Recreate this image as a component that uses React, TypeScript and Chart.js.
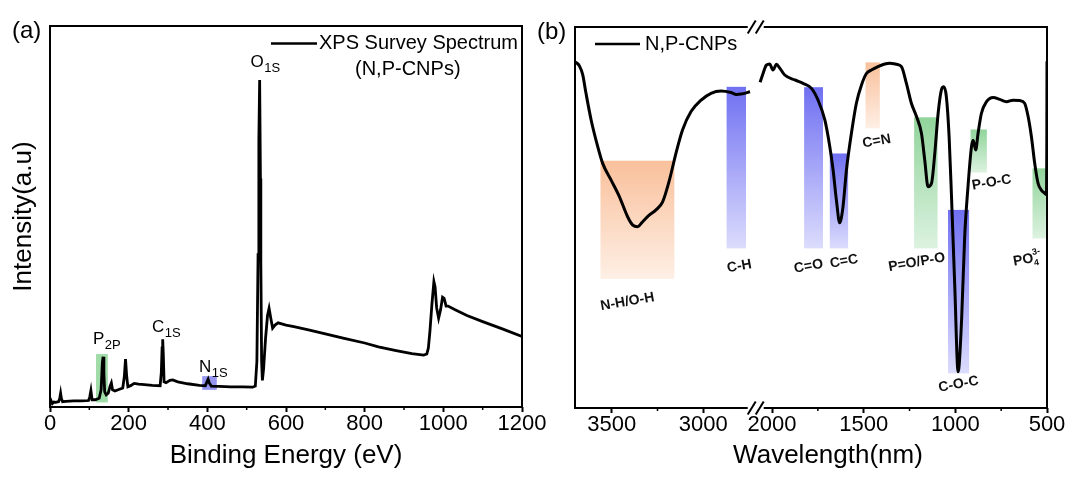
import React, { useEffect, useRef } from "react";
import { Chart, registerables } from "chart.js";
Chart.register(...registerables);

const FONT = 'Arial, "Liberation Sans", Helvetica, sans-serif';

// ---------------- Panel (a): XPS survey spectrum ----------------
const xpsEnergy = [
  0, 3, 6, 10, 15, 22, 25, 27, 29, 32, 40, 60, 80, 98, 101, 104, 107, 115, 125, 130,
  133, 135, 137, 139, 143, 148, 153, 156, 159, 165, 175, 185, 189, 192, 195, 198, 205, 214, 225, 240,
  260, 280, 283, 285, 286.5, 288, 290, 295, 305, 312, 325, 350, 380, 395, 399, 402, 405, 410, 430, 460,
  490, 515, 522, 526, 529, 531, 533, 535, 536, 538, 540, 543, 548, 553, 557, 561, 566, 572, 580, 600,
  620, 660, 700, 748, 800, 835, 880, 920, 950, 958, 962, 966, 971, 976, 979, 983, 988, 993, 998, 1002,
  1007, 1012, 1030, 1060, 1100, 1150, 1200,
];
const xpsIntensity = [
  0.8, 1.6, 0.9, 1.3, 1.2, 1.4, 2.4, 3.6, 2.2, 1.4, 1.5, 1.6, 1.6, 1.7, 2.6, 4.3, 1.9, 1.9, 2.3, 4.5,
  11.5, 13.2, 9.0, 4.0, 3.2, 3.6, 5.5, 6.3, 4.5, 4.2, 4.6, 5.0, 8.0, 12.6, 8.0, 5.3, 5.6, 6.2, 6.0, 5.9,
  5.7, 5.6, 9.0, 15.5, 17.8, 14.0, 6.6, 6.4, 7.0, 7.1, 6.6, 6.1, 5.7, 5.6, 6.6, 7.3, 6.3, 5.5, 5.4, 5.3,
  5.3, 5.2, 5.5, 12.0, 40.0, 70.0, 85.8, 60.0, 38.0, 12.0, 7.0, 10.0, 18.0, 24.0, 25.9, 23.5, 20.7, 21.5, 22.1, 21.5,
  21.1, 20.2, 19.2, 18.0, 16.8, 15.8, 14.8, 14.0, 13.6, 13.9, 15.5, 20.0, 27.0, 32.9, 31.5, 26.0, 23.3, 25.5, 28.8, 28.5,
  26.5, 26.5, 25.5, 24.0, 22.4, 20.5, 18.5,
];
const xpsTicks = [0, 200, 400, 600, 800, 1000, 1200];
const xpsMinorTicks = [100, 300, 500, 700, 900, 1100];
const xpsPeakNames = ["P", "C", "N", "O"];
const xpsPeakSubs = ["2P", "1S", "1S", "1S"];
const xpsHighlightFrom = [117, 387];
const xpsHighlightTo = [147, 424];
const xpsHighlightTop = [13.9, 8.1];
const xpsHighlightBottom = [1.2, 4.5];

// ---------------- Panel (b): FTIR spectrum ----------------
const irLeftWavenumber = [
  3700, 3689, 3676, 3658, 3640, 3612, 3576, 3549, 3503, 3458, 3413, 3385, 3358, 3331,
  3294, 3258, 3222, 3185, 3149, 3113, 3067, 3012, 2958, 2903, 2849, 2820, 2794, 2745,
];
const irLeftValue = [
  90.8, 90.5, 89.8, 87.5, 82.6, 75.6, 68.6, 64.2, 59.8, 55.5, 50.2, 48.0, 47.6, 48.9,
  50.7, 52.0, 54.1, 59.8, 66.9, 73.0, 77.8, 80.8, 82.6, 83.2, 82.8, 82.3, 82.4, 83.0,
];
const irRightWavenumber = [
  2065, 2049, 2031, 2013, 1995, 1976, 1958, 1931, 1876, 1831, 1785, 1749, 1712, 1685, 1667, 1649,
  1631, 1613, 1594, 1567, 1540, 1512, 1485, 1458, 1422, 1385, 1358, 1321, 1294, 1267, 1240, 1212,
  1185, 1167, 1149, 1130, 1112, 1094, 1076, 1063, 1049, 1034, 1021, 1003, 985, 966, 949, 931,
  912, 903, 889, 876, 858, 830, 794, 758, 721, 685, 649, 622, 603, 585, 567, 549,
  531, 513, 503, 501, 500,
];
const irRightValue = [
  85.5, 87.8, 90.0, 90.3, 88.7, 90.2, 89.2, 87.4, 86.1, 85.2, 83.9, 80.8, 75.6, 68.6, 62.5, 54.6,
  48.6, 52.8, 62.5, 72.1, 80.0, 84.8, 87.8, 88.7, 89.6, 90.3, 90.5, 90.2, 89.6, 85.2, 80.0, 76.5,
  72.1, 65.1, 58.1, 59.0, 66.9, 77.3, 83.5, 84.3, 81.7, 71.2, 55.5, 31.8, 9.5, 23.1, 45.0, 58.1,
  68.6, 70.3, 67.7, 72.1, 77.3, 80.4, 81.5, 81.0, 80.4, 80.8, 80.7, 80.0, 76.5, 71.2, 64.2, 59.0,
  57.2, 56.4, 56.0, 70.0, 91.0,
];
const irTicks = [3500, 3000, 2000, 1500, 1000, 500];
const irMinorTicks = [3250, 1750, 1250, 750];
const irBandNames = ["N-H/O-H", "C-H", "C=O", "C=C", "C=N", "P=O/P-O", "C-O-C", "P-O-C", "PO4"];
const irBandHigh = [3561, 2873, 1825, 1685, 1490, 1225, 1040, 917, 579];
const irBandLow = [3158, 2767, 1722, 1585, 1412, 1097, 925, 828, 506];
const irBandTop = [64.9, 84.3, 84.2, 66.8, 90.7, 76.3, 52.0, 73.1, 62.9];
const irBandBottom = [33.9, 41.9, 41.9, 41.9, 73.4, 41.9, 9.1, 61.8, 44.5];
const irBandGroup = ["orange", "blue", "blue", "blue", "orange", "green", "blue", "green", "green"];

// axis break: 2725..2100 removed
const BREAK_HIGH = 2725;
const BREAK_LOW = 2100;
const GAP = BREAK_HIGH - BREAK_LOW;
const toAxis = (w: number) => (w >= BREAK_HIGH ? w - GAP : w);
const fromAxis = (u: number) => (u > BREAK_LOW ? u + GAP : u);

const GRADIENTS: Record<string, [string, string]> = {
  orange: ["rgb(249,192,155)", "rgb(254,239,229)"],
  blue: ["rgb(112,112,242)", "rgb(220,220,253)"],
  green: ["rgb(145,212,155)", "rgb(220,242,224)"],
};
// label offsets (px) from box bottom-centre
const BAND_LABEL_OFFSET: [number, number][] = [
  [-10, 23], [3, 18], [-5, 18], [5, 13], [4, 13], [-9, 14], [0, 11], [13, 10], [-12, 21],
];
// peak label anchors in data coords (eV, intensity)
const XPS_LABEL_ANCHOR: [number, number][] = [
  [109.3, 16.5], [259.3, 19.7], [378.8, 9.2], [509.8, 89.2],
];

function drawFrame(ctx: CanvasRenderingContext2D, a: any) {
  ctx.save();
  ctx.strokeStyle = "#000";
  ctx.lineWidth = 2;
  ctx.strokeRect(a.left, a.top, a.right - a.left, a.bottom - a.top);
  ctx.restore();
}

function drawMinor(ctx: CanvasRenderingContext2D, x: any, bottom: number, vals: number[]) {
  ctx.save();
  ctx.strokeStyle = "#000";
  ctx.lineWidth = 1.5;
  vals.forEach((v) => {
    const p = x.getPixelForValue(v);
    ctx.beginPath();
    ctx.moveTo(p, bottom);
    ctx.lineTo(p, bottom + 3);
    ctx.stroke();
  });
  ctx.restore();
}

const xpsDecor = {
  id: "xpsDecor",
  beforeDatasetsDraw(chart: any) {
    const { ctx, scales } = chart;
    const { x, y } = scales;
    const colors = ["rgb(160,220,168)", "rgb(150,150,242)"];
    ctx.save();
    xpsHighlightFrom.forEach((f, i) => {
      const l = x.getPixelForValue(f);
      const r = x.getPixelForValue(xpsHighlightTo[i]);
      const t = y.getPixelForValue(xpsHighlightTop[i]);
      const b = y.getPixelForValue(xpsHighlightBottom[i]);
      ctx.fillStyle = colors[i];
      ctx.fillRect(l, t, r - l, b - t);
    });
    ctx.restore();
  },
  afterDatasetsDraw(chart: any) {
    const { ctx, chartArea, scales } = chart;
    const { x, y } = scales;
    drawFrame(ctx, chartArea);
    drawMinor(ctx, x, chartArea.bottom, xpsMinorTicks);
    ctx.save();
    ctx.fillStyle = "#000";
    xpsPeakNames.forEach((n, i) => {
      const px = x.getPixelForValue(XPS_LABEL_ANCHOR[i][0]);
      const py = y.getPixelForValue(XPS_LABEL_ANCHOR[i][1]);
      ctx.textAlign = "left";
      ctx.textBaseline = "alphabetic";
      ctx.font = `17px ${FONT}`;
      ctx.fillText(n, px, py);
      const w = ctx.measureText(n).width;
      ctx.font = `13px ${FONT}`;
      ctx.fillText(xpsPeakSubs[i], px + w + 0.5, py + 5);
    });
    ctx.strokeStyle = "#000";
    ctx.lineWidth = 2.5;
    ctx.beginPath();
    ctx.moveTo(271, 43.5);
    ctx.lineTo(317, 43.5);
    ctx.stroke();
    ctx.font = `20px ${FONT}`;
    ctx.textBaseline = "middle";
    ctx.textAlign = "left";
    ctx.fillText("XPS Survey Spectrum", 319, 43.5);
    ctx.fillText("(N,P-CNPs)", 355, 69);
    ctx.font = `24px ${FONT}`;
    ctx.fillText("(a)", 12, 31);
    ctx.restore();
  },
};

const irDecor = {
  id: "irDecor",
  beforeDatasetsDraw(chart: any) {
    const { ctx, scales } = chart;
    const { x, y } = scales;
    ctx.save();
    irBandNames.forEach((_, i) => {
      const l = x.getPixelForValue(toAxis(irBandHigh[i]));
      const r = x.getPixelForValue(toAxis(irBandLow[i]));
      const t = y.getPixelForValue(irBandTop[i]);
      const b = y.getPixelForValue(irBandBottom[i]);
      const [c0, c1] = GRADIENTS[irBandGroup[i]];
      const g = ctx.createLinearGradient(0, t, 0, b);
      g.addColorStop(0, c0);
      g.addColorStop(1, c1);
      ctx.fillStyle = g;
      ctx.fillRect(l, t, r - l, b - t);
    });
    ctx.restore();
  },
  afterDatasetsDraw(chart: any) {
    const { ctx, chartArea, scales } = chart;
    const { x, y } = scales;
    drawFrame(ctx, chartArea);
    drawMinor(ctx, x, chartArea.bottom, irMinorTicks.map(toAxis));
    ctx.save();
    const cx = x.getPixelForValue(BREAK_LOW) + 2;
    [chartArea.top, chartArea.bottom].forEach((yy: number) => {
      ctx.fillStyle = "#fff";
      ctx.fillRect(cx - 8, yy - 2, 16, 4);
      ctx.strokeStyle = "#000";
      ctx.lineWidth = 2;
      [-4, 4].forEach((d) => {
        ctx.beginPath();
        ctx.moveTo(cx + d - 4, yy + 6.5);
        ctx.lineTo(cx + d + 4, yy - 6.5);
        ctx.stroke();
      });
    });
    ctx.fillStyle = "#111";
    ctx.textBaseline = "middle";
    irBandNames.forEach((name, i) => {
      const l = x.getPixelForValue(toAxis(irBandHigh[i]));
      const r = x.getPixelForValue(toAxis(irBandLow[i]));
      const b = y.getPixelForValue(irBandBottom[i]);
      const lx = (l + r) / 2 + BAND_LABEL_OFFSET[i][0];
      const ly = b + BAND_LABEL_OFFSET[i][1];
      ctx.save();
      ctx.translate(lx, ly);
      ctx.rotate((-10 * Math.PI) / 180);
      if (name === "PO4") {
        ctx.font = `bold 14px ${FONT}`;
        const w1 = ctx.measureText("PO").width;
        ctx.font = `bold 9px ${FONT}`;
        const w2 = Math.max(ctx.measureText("4").width, ctx.measureText("3-").width);
        const start = -(w1 + w2) / 2;
        ctx.textAlign = "left";
        ctx.font = `bold 14px ${FONT}`;
        ctx.fillText("PO", start, 0);
        ctx.font = `bold 9px ${FONT}`;
        ctx.fillText("4", start + w1, 5);
        ctx.fillText("3-", start + w1, -6);
      } else {
        ctx.textAlign = "center";
        ctx.font = `bold 14px ${FONT}`;
        ctx.fillText(name, 0, 0);
      }
      ctx.restore();
    });
    ctx.fillStyle = "#000";
    ctx.strokeStyle = "#000";
    ctx.lineWidth = 2.5;
    ctx.beginPath();
    ctx.moveTo(595 - 520, 44);
    ctx.lineTo(640 - 520, 44);
    ctx.stroke();
    ctx.font = `20px ${FONT}`;
    ctx.textAlign = "left";
    ctx.fillText("N,P-CNPs", 645 - 520, 44);
    ctx.font = `24px ${FONT}`;
    ctx.fillText("(b)", 537 - 520, 32);
    ctx.font = `26px ${FONT}`;
    ctx.textAlign = "center";
    ctx.fillText("Wavelength(nm)", 828 - 520, 456);
    ctx.restore();
  },
};

const tickFont = { family: FONT, size: 22, lineHeight: 1 };

function baseXAxis(height: number) {
  return {
    type: "linear" as const,
    afterFit: (s: any) => {
      s.height = height;
      s.paddingLeft = 0;
      s.paddingRight = 0;
    },
    ticks: {
      font: tickFont,
      color: "#000",
      padding: 1,
      maxRotation: 0,
      minRotation: 0,
      autoSkip: false,
    },
    grid: {
      display: true,
      drawOnChartArea: false,
      drawTicks: true,
      tickLength: 5,
      tickWidth: 2,
      tickColor: "#000",
    },
    border: { display: false },
  };
}

function baseYAxis(width: number, title?: string) {
  return {
    type: "linear" as const,
    min: 0,
    max: 100,
    afterFit: (s: any) => {
      s.width = width;
      s.paddingTop = 0;
      s.paddingBottom = 0;
    },
    ticks: { display: false },
    grid: { display: false },
    border: { display: false },
    title: title
      ? {
          display: true,
          text: title,
          font: { family: FONT, size: 26 },
          color: "#000",
          padding: { top: 8.5, bottom: 0 },
        }
      : { display: false },
  };
}

export default function App() {
  const refA = useRef<HTMLCanvasElement>(null);
  const refB = useRef<HTMLCanvasElement>(null);

  useEffect(() => {
    const xA = baseXAxis(72) as any;
    xA.min = 0;
    xA.max = 1200;
    xA.afterBuildTicks = (s: any) => {
      s.ticks = xpsTicks.map((v) => ({ value: v }));
    };
    xA.ticks.callback = (v: any) => String(v);
    xA.title = {
      display: true,
      text: "Binding Energy (eV)",
      font: { family: FONT, size: 26 },
      color: "#000",
      padding: { top: 0, bottom: 8 },
    };

    const chartA = new Chart(refA.current as HTMLCanvasElement, {
      type: "line",
      data: {
        datasets: [
          {
            data: xpsEnergy.map((e, i) => ({ x: e, y: xpsIntensity[i] })),
            borderColor: "#000",
            borderWidth: 2.8,
            pointRadius: 0,
            tension: 0,
            fill: false,
          },
        ],
      },
      options: {
        responsive: false,
        maintainAspectRatio: false,
        devicePixelRatio: 1,
        animation: false,
        layout: { padding: { left: 0, right: 38, top: 26, bottom: 0 } },
        plugins: { legend: { display: false }, tooltip: { enabled: false }, title: { display: false } },
        scales: { x: xA, y: baseYAxis(50, "Intensity(a.u)") as any },
      },
      plugins: [xpsDecor],
    });

    const xB = baseXAxis(71) as any;
    xB.min = 500;
    xB.max = toAxis(3700);
    xB.reverse = true;
    xB.afterBuildTicks = (s: any) => {
      s.ticks = irTicks.map((v) => ({ value: toAxis(v) }));
    };
    xB.ticks.callback = (v: any) => String(Math.round(fromAxis(Number(v))));
    xB.title = { display: false };

    const leftPts = irLeftWavenumber
      .map((w, i) => ({ x: toAxis(w), y: irLeftValue[i] }))
      .sort((p, q) => p.x - q.x);
    const rightPts = irRightWavenumber
      .map((w, i) => ({ x: toAxis(w), y: irRightValue[i] }))
      .sort((p, q) => p.x - q.x);

    const lineStyle = {
      borderColor: "#000",
      borderWidth: 3,
      pointRadius: 0,
      cubicInterpolationMode: "monotone" as const,
      fill: false,
    };

    const chartB = new Chart(refB.current as HTMLCanvasElement, {
      type: "line",
      data: {
        datasets: [
          { data: leftPts, ...lineStyle },
          { data: rightPts, ...lineStyle },
        ],
      },
      options: {
        responsive: false,
        maintainAspectRatio: false,
        devicePixelRatio: 1,
        animation: false,
        layout: { padding: { left: 0, right: 25, top: 27, bottom: 0 } },
        plugins: { legend: { display: false }, tooltip: { enabled: false }, title: { display: false } },
        scales: { x: xB, y: baseYAxis(55) as any },
      },
      plugins: [irDecor],
    });

    return () => {
      chartA.destroy();
      chartB.destroy();
    };
  }, []);

  return (
    <div style={{ position: "absolute", left: 0, top: 0, width: 1072, height: 479, background: "#fff", overflow: "hidden" }}>
      <canvas
        ref={refA}
        width={560}
        height={479}
        style={{ position: "absolute", left: 0, top: 0, width: 560, height: 479 }}
      />
      <canvas
        ref={refB}
        width={552}
        height={479}
        style={{ position: "absolute", left: 520, top: 0, width: 552, height: 479 }}
      />
    </div>
  );
}
